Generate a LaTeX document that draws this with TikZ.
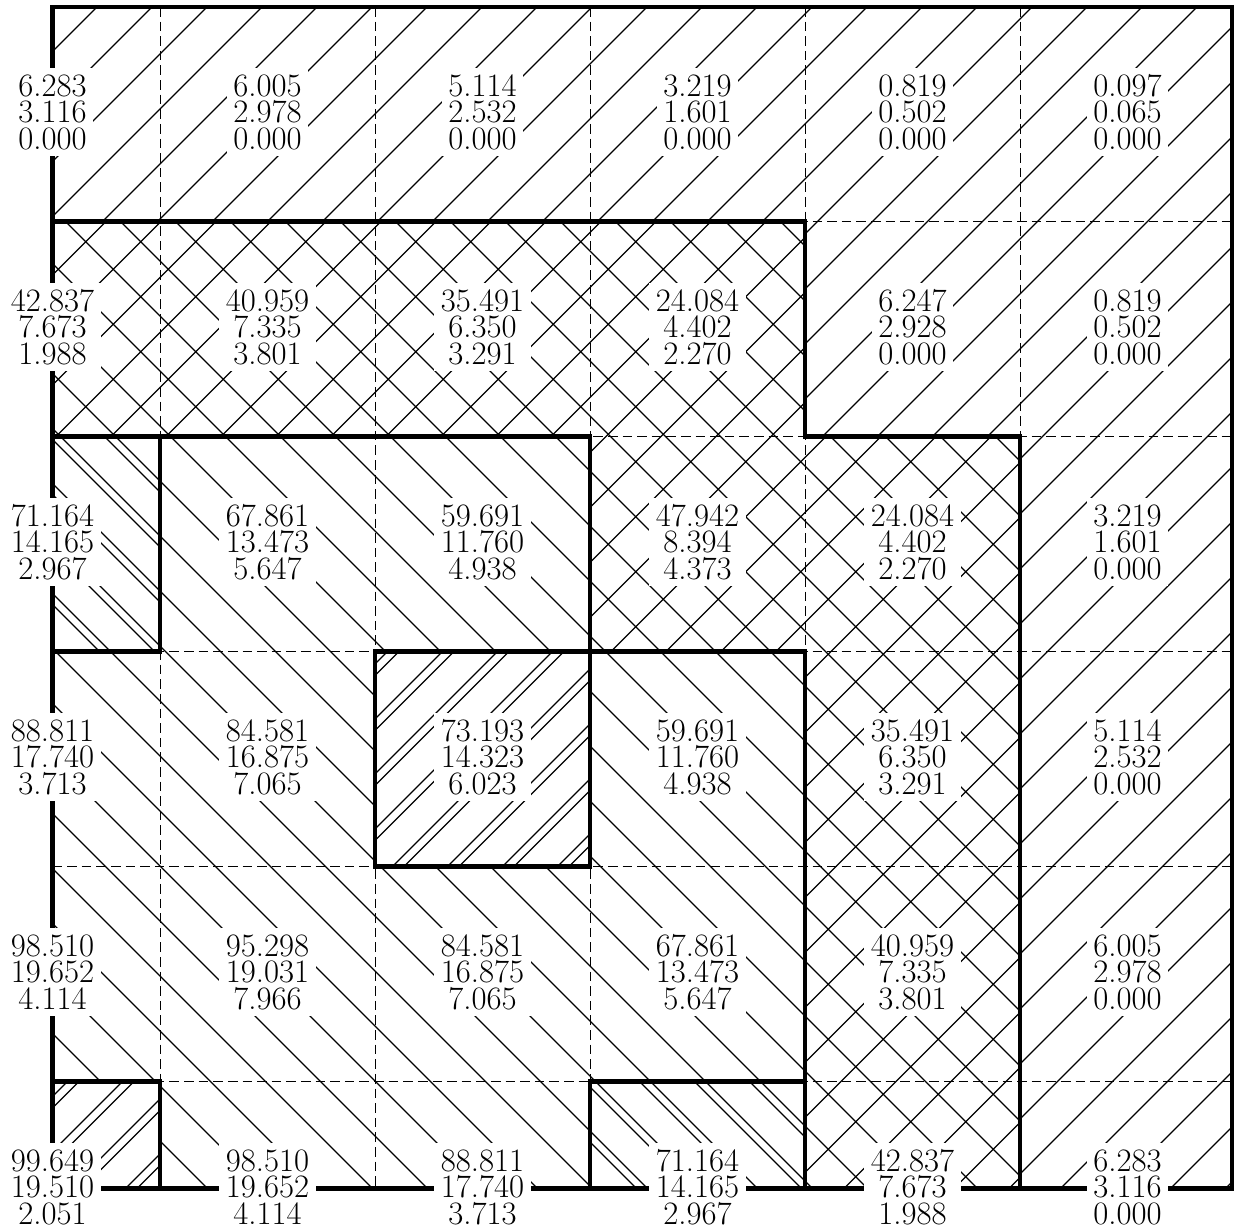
\documentclass[tikz,border=0pt]{standalone}
\newcommand\hatchNE[1]{\foreach \k in {0,...,45}{\draw[hatchline] ({#1+55*\k},0) -- ({#1+55*\k-1300},1300);}}
\newcommand\hatchNW[1]{\foreach \k in {-22,...,24}{\draw[hatchline] ({#1+55*\k},0) -- ({#1+55*\k+1300},1300);}}
\newcommand\cellclip[1]{\clip \foreach \r/\c in {#1}{({215*\c-55},{215*\r+6.5}) rectangle ({215*\c+160},{215*\r+221.5})};}
\begin{document}
\begin{tikzpicture}[x=0.52pt,y=-0.52pt,
  hatchline/.style={line width=0.6pt},
  gridline/.style={line width=0.5pt, dash pattern=on 5pt off 2.6pt},
  border/.style={line width=2.1pt},
  val/.style={fill=white, align=center, font=\fontsize{17}{13.8}\selectfont}]
\useasboundingbox (0,0) rectangle (1239,1229);
% hatching
\begin{scope}
  \clip (52.5,7) rectangle (1232,1188.5);
  % single north-east lines (and base of the doubled ones)
  \begin{scope}
    \cellclip{0/0,0/1,0/2,0/3,0/4,0/5,1/4,1/5,2/5,3/5,4/5,5/5,3/2,5/0}
    \hatchNE{49}
  \end{scope}
  % doubled north-east lines
  \begin{scope}
    \cellclip{3/2,5/0}
    \hatchNE{60.5}
  \end{scope}
  % crosshatch
  \begin{scope}
    \cellclip{1/0,1/1,1/2,1/3,2/3,2/4,3/4,4/4,5/4}
    \hatchNE{52.5}
    \hatchNW{9}
  \end{scope}
  % single north-west lines
  \begin{scope}
    \cellclip{2/0,2/1,2/2,3/0,3/1,3/3,4/0,4/1,4/2,4/3,5/1,5/2,5/3}
    \hatchNW{9}
  \end{scope}
  % doubled north-west lines
  \begin{scope}
    \cellclip{2/0,5/3}
    \hatchNW{-2}
  \end{scope}
\end{scope}
% dashed cell boundaries
\foreach \x in {160,375,590,805,1020} \draw[gridline] (\x,7) -- (\x,1188.5);
\foreach \y in {221.5,436.5,651.5,866.5,1081.5} \draw[gridline] (52.5,\y) -- (1232,\y);
% region boundaries
\draw[border] (52.5,7) rectangle (1232,1188.5);
\draw[border] (52.5,221.5) -- (805,221.5) -- (805,436.5) -- (1020,436.5) -- (1020,1188.5);
\draw[border] (52.5,436.5) -- (590,436.5) -- (590,651.5) -- (805,651.5) -- (805,1188.5);
\draw[border] (160,436.5) -- (160,651.5) -- (52.5,651.5);
\draw[border] (375,651.5) rectangle (590,866.5);
\draw[border] (52.5,1081.5) -- (160,1081.5) -- (160,1188.5);
\draw[border] (590,1188.5) -- (590,1081.5) -- (805,1081.5);
% values
\node[val] (v00) at (52.5,112)   {6.283\\3.116\\0.000};
\node[val] (v01) at (267.5,112)  {6.005\\2.978\\0.000};
\node[val] (v02) at (482.5,112)  {5.114\\2.532\\0.000};
\node[val] (v03) at (697.5,112)  {3.219\\1.601\\0.000};
\node[val] (v04) at (912.5,112)  {0.819\\0.502\\0.000};
\node[val] (v05) at (1127.5,112) {0.097\\0.065\\0.000};
\node[val] (v10) at (52.5,327)   {42.837\\7.673\\1.988};
\node[val] (v11) at (267.5,327)  {40.959\\7.335\\3.801};
\node[val] (v12) at (482.5,327)  {35.491\\6.350\\3.291};
\node[val] (v13) at (697.5,327)  {24.084\\4.402\\2.270};
\node[val] (v14) at (912.5,327)  {6.247\\2.928\\0.000};
\node[val] (v15) at (1127.5,327) {0.819\\0.502\\0.000};
\node[val] (v20) at (52.5,542)   {71.164\\14.165\\2.967};
\node[val] (v21) at (267.5,542)  {67.861\\13.473\\5.647};
\node[val] (v22) at (482.5,542)  {59.691\\11.760\\4.938};
\node[val] (v23) at (697.5,542)  {47.942\\8.394\\4.373};
\node[val] (v24) at (912.5,542)  {24.084\\4.402\\2.270};
\node[val] (v25) at (1127.5,542) {3.219\\1.601\\0.000};
\node[val] (v30) at (52.5,757)   {88.811\\17.740\\3.713};
\node[val] (v31) at (267.5,757)  {84.581\\16.875\\7.065};
\node[val] (v32) at (482.5,757)  {73.193\\14.323\\6.023};
\node[val] (v33) at (697.5,757)  {59.691\\11.760\\4.938};
\node[val] (v34) at (912.5,757)  {35.491\\6.350\\3.291};
\node[val] (v35) at (1127.5,757) {5.114\\2.532\\0.000};
\node[val] (v40) at (52.5,972)   {98.510\\19.652\\4.114};
\node[val] (v41) at (267.5,972)  {95.298\\19.031\\7.966};
\node[val] (v42) at (482.5,972)  {84.581\\16.875\\7.065};
\node[val] (v43) at (697.5,972)  {67.861\\13.473\\5.647};
\node[val] (v44) at (912.5,972)  {40.959\\7.335\\3.801};
\node[val] (v45) at (1127.5,972) {6.005\\2.978\\0.000};
\node[val] (v50) at (52.5,1187)   {99.649\\19.510\\2.051};
\node[val] (v51) at (267.5,1187)  {98.510\\19.652\\4.114};
\node[val] (v52) at (482.5,1187)  {88.811\\17.740\\3.713};
\node[val] (v53) at (697.5,1187)  {71.164\\14.165\\2.967};
\node[val] (v54) at (912.5,1187)  {42.837\\7.673\\1.988};
\node[val] (v55) at (1127.5,1187) {6.283\\3.116\\0.000};
\end{tikzpicture}
\end{document}
